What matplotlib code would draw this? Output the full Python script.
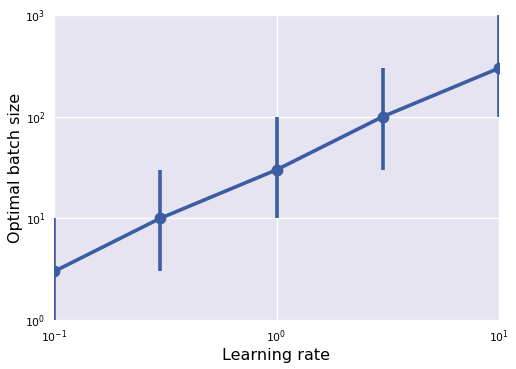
import numpy as np
import matplotlib
matplotlib.use("Agg")
import matplotlib.pyplot as plt

learning_rate = [0.1, 0.3, 1.0, 3.0, 10.0]
batch_size = [3, 10, 30, 100, 300]
err_low = [1, 3, 10, 30, 100]
err_high = [10, 30, 100, 300, 1000]

color = "#3C5DA1"

fig = plt.figure(figsize=(5.16, 3.69), dpi=100)
ax = fig.add_axes([54 / 516, 1 - 320 / 369, 445 / 516, 305 / 369])
ax.set_facecolor("#E5E4F0")
for s in ax.spines.values():
    s.set_visible(False)

y = np.array(batch_size, dtype=float)
yerr = [y - np.array(err_low), np.array(err_high) - y]
ax.errorbar(learning_rate, batch_size, yerr=yerr, color=color, lw=2.6,
            elinewidth=2.6, marker="o", ms=7.5, capsize=0, zorder=3, clip_on=True)

ax.set_xscale("log")
ax.set_yscale("log")
ax.set_xlim(0.1, 10)
ax.set_ylim(1, 1000)
ax.minorticks_off()
ax.grid(True, color="white", lw=1)
ax.set_axisbelow(True)
ax.tick_params(length=0, labelsize=7.8, pad=6)
ax.set_xlabel("Learning rate", fontsize=11.5, labelpad=2)
ax.set_ylabel("Optimal batch size", fontsize=11.5, labelpad=2)

fig.savefig("out.png", dpi=100)
